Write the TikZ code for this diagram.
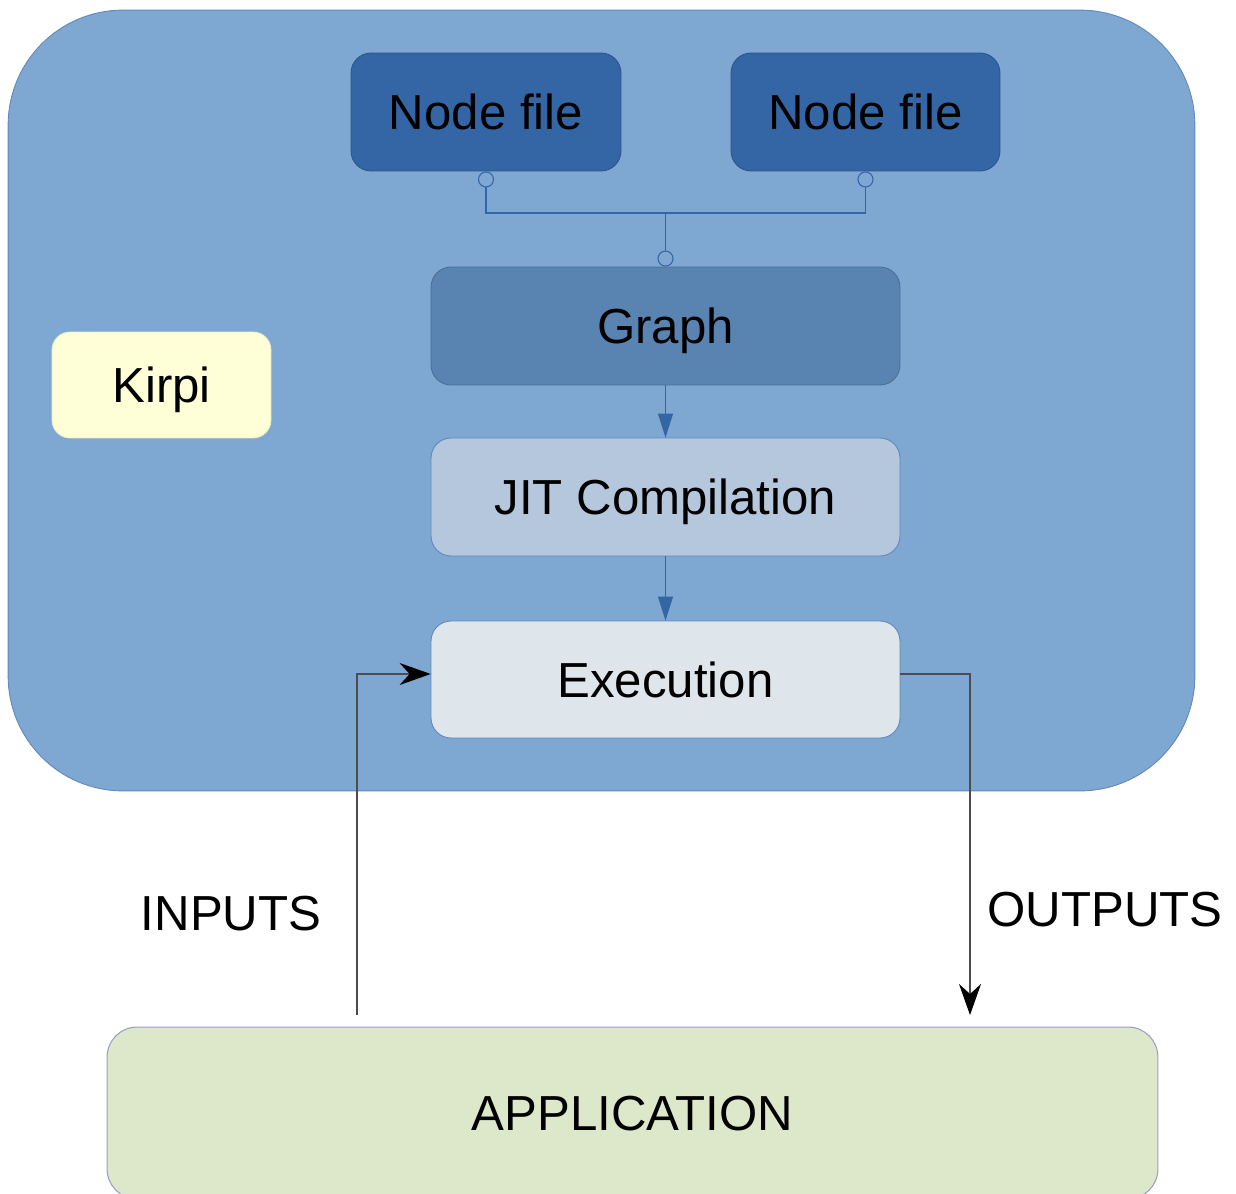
\documentclass[tikz,border=0pt]{standalone}
\usepackage{fontspec}
\setmainfont{Liberation Sans}
\usetikzlibrary{positioning,arrows.meta}

\definecolor{kirpiblue}{RGB}{126,167,210}
\definecolor{kirpiedge}{RGB}{98,135,186}
\definecolor{filefill}{RGB}{52,101,164}
\definecolor{graphfill}{RGB}{89,131,176}
\definecolor{jitfill}{RGB}{180,199,220}
\definecolor{execfill}{RGB}{222,230,235}
\definecolor{notefill}{RGB}{255,255,215}
\definecolor{appfill}{RGB}{221,232,203}
\definecolor{linkblue}{RGB}{52,101,164}

\begin{document}
\begin{tikzpicture}[x=0.02cm,y=-0.02cm,
  >={Stealth[length=0.62cm,width=0.44cm,inset=0.2cm,color=black]},
  font=\fontsize{28}{33}\selectfont,
  box/.style={rectangle,rounded corners=0.4cm,minimum width=9.38cm,minimum height=2.36cm,
    inner sep=0pt,text depth=0pt,line width=0.5pt},
  port/.style={circle,draw=linkblue,fill=kirpiblue,minimum size=0.3cm,inner sep=0pt,line width=0.6pt},
  link/.style={draw=linkblue,line width=0.6pt},
  flow/.style={link,-{Triangle[length=0.48cm,width=0.3cm]},color=linkblue},
  io/.style={draw=black!70,line width=0.6pt,->}]

\useasboundingbox (0,0) rectangle (1236,1193);

%------------------------------------------------
% Kirpi container
%------------------------------------------------
\node[rectangle,rounded corners=2.3cm,minimum width=23.74cm,minimum height=15.62cm,
  fill=kirpiblue,draw=kirpiedge,line width=0.5pt] (kirpi) at (601.5,400.5) {};

\node[box,minimum width=4.38cm,minimum height=2.12cm,rounded corners=0.36cm,
  fill=notefill,draw=notefill!85!gray] (name) at (161.5,385) {Kirpi};

% Node files
\node[box,minimum width=5.4cm,fill=filefill,draw=filefill!85!black] (nf1) at (486,112) {Node file};
\node[box,minimum width=5.38cm,fill=filefill,draw=filefill!85!black] (nf2) at (865.5,112) {Node file};

% Pipeline
\node[box,fill=graphfill,draw=graphfill!85!black] (graph) at (665.5,326) {Graph};
\node[box,fill=jitfill,draw=kirpiedge] (jit) at (665.5,497) {JIT Compilation};
\node[box,minimum height=2.34cm,fill=execfill,draw=kirpiedge] (exec) at (665.5,679.5) {Execution};

% Ports
\node[port,below=0pt of nf1] (p1) {};
\node[port,below=0pt of nf2] (p2) {};
\node[port,above=0pt of graph] (p3) {};
\coordinate (join) at (665.5,213);

\draw[link] (p1.south) |- (join) -| (p2.south);
\draw[link] (join) -- (p3.north);

\draw[flow] (graph) -- (jit);
\draw[flow] (jit) -- (exec);

%------------------------------------------------
% Application
%------------------------------------------------
\node[box,minimum width=21.02cm,minimum height=3.44cm,rounded corners=0.6cm,
  fill=appfill,draw=gray!70!blue!60,line width=0.6pt] (app) at (632.5,1113) {APPLICATION};

\coordinate (inStart) at (357,1015);
\coordinate (outEnd) at (970,1015);

\draw[io] (inStart) |- ([yshift=0.11cm]exec.west);
\draw[io] ([yshift=0.11cm]exec.east) -| (outEnd);

\node (inputs) at (231,914) {INPUTS};
\node (outputs) at (1105,910) {OUTPUTS};

\end{tikzpicture}
\end{document}
